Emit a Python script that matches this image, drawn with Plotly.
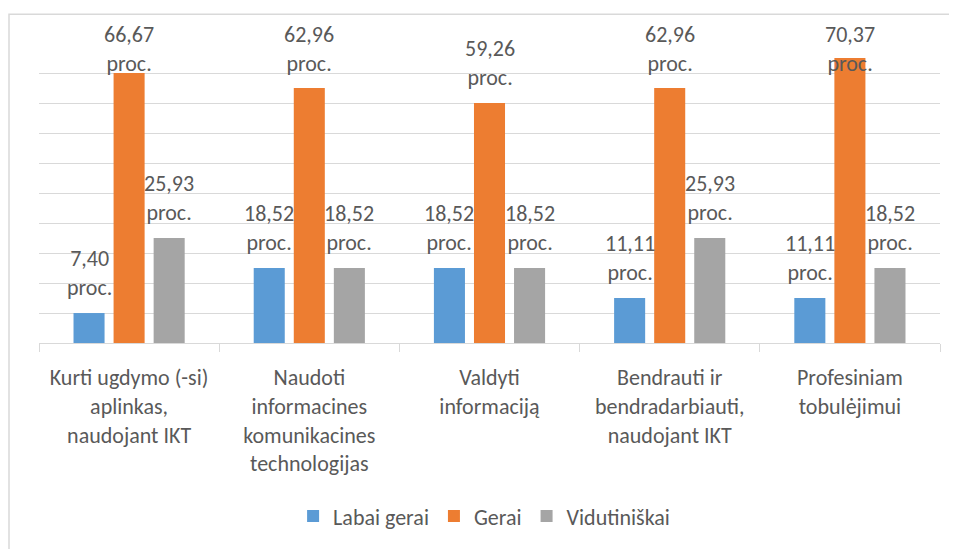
import plotly.graph_objects as go

categories = [
    "Kurti ugdymo (-si)<br>aplinkas,<br>naudojant IKT",
    "Naudoti<br>informacines<br>komunikacines<br>technologijas",
    "Valdyti<br>informaciją",
    "Bendrauti ir<br>bendradarbiauti,<br>naudojant IKT",
    "Profesiniam<br>tobulėjimui",
]
labai_gerai = [7.40, 18.52, 18.52, 11.11, 11.11]
gerai = [66.67, 62.96, 59.26, 62.96, 70.37]
vidutiniskai = [25.93, 18.52, 18.52, 25.93, 18.52]
series_names = ["Labai gerai", "Gerai", "Vidutiniškai"]
colors = ["#5B9BD5", "#ED7D31", "#A5A5A5"]

FONT = "Carlito, Lato, sans-serif"
TXT = "#595959"
FS = 22

def fmt(v):
    return f"{v:.2f}".replace(".", ",") + "<br>proc."

# page body has an 8px default margin; the figure is offset by it
OFF = 8
PL, PR, PT, PB = 39, 940, 43, 346  # plot area in window pixels
W, H = 957 - OFF, 549 - OFF
ymax = 2000 / 27
BARGAP = 0.333

fig = go.Figure()
all_series = [labai_gerai, gerai, vidutiniskai]
for name, vals, col in zip(series_names, all_series, colors):
    fig.add_trace(go.Bar(
        name=name, x=categories, y=vals, marker_color=col, marker_line_width=0,
        cliponaxis=False,
    ))

# data labels (Excel "outside end", kept inside the chart at the top)
cat_w = (PR - PL) / len(categories)
slot = cat_w * (1 - BARGAP) / len(all_series)
annotations = []
for si, vals in enumerate(all_series):
    xs = (si - (len(all_series) - 1) / 2) * slot
    for c, v in zip(categories, vals):
        bartop = PT + (1 - v / ymax) * (PB - PT)
        box_bottom = max(bartop - 10, 79)
        annotations.append(dict(
            x=c, y=v, xref="x", yref="y", text=fmt(v), showarrow=False,
            xanchor="center", yanchor="bottom", xshift=xs, yshift=bartop - box_bottom,
            font=dict(family=FONT, size=FS, color=TXT),
        ))

fig.update_layout(
    width=W, height=H,
    margin=dict(l=PL - OFF, r=W - (PR - OFF), t=PT - OFF, b=H - (PB - OFF)),
    paper_bgcolor="white", plot_bgcolor="white",
    barmode="group", bargap=BARGAP, bargroupgap=0.225,
    font=dict(family=FONT, size=FS, color=TXT),
    showlegend=True,
    legend=dict(orientation="h", x=0.494, xanchor="center",
                y=(PB - 521) / (PB - PT), yanchor="middle",
                font=dict(family=FONT, size=FS, color=TXT), itemclick=False,
                itemwidth=30),
    xaxis=dict(showline=True, linecolor="#D9D9D9", linewidth=1, ticks="outside",
               tickson="boundaries", ticklen=8, tickcolor="#D9D9D9",
               tickfont=dict(family=FONT, size=FS, color=TXT), ticklabelstandoff=15,
               showgrid=False),
    yaxis=dict(range=[0, ymax + 0.01], tick0=0, dtick=200 / 27, showticklabels=False,
               showgrid=True, gridcolor="#D9D9D9", gridwidth=1, zeroline=False,
               showline=False),
    annotations=annotations,
    shapes=[dict(type="rect", xref="paper", yref="paper",
                 x0=(9 - PL) / (PR - PL), x1=(975 - PL) / (PR - PL),
                 y0=(PB - 570) / (PB - PT), y1=(PB - 14) / (PB - PT),
                 line=dict(color="#D9D9D9", width=1.5), layer="below")],
)
fig.write_html("out.html")
